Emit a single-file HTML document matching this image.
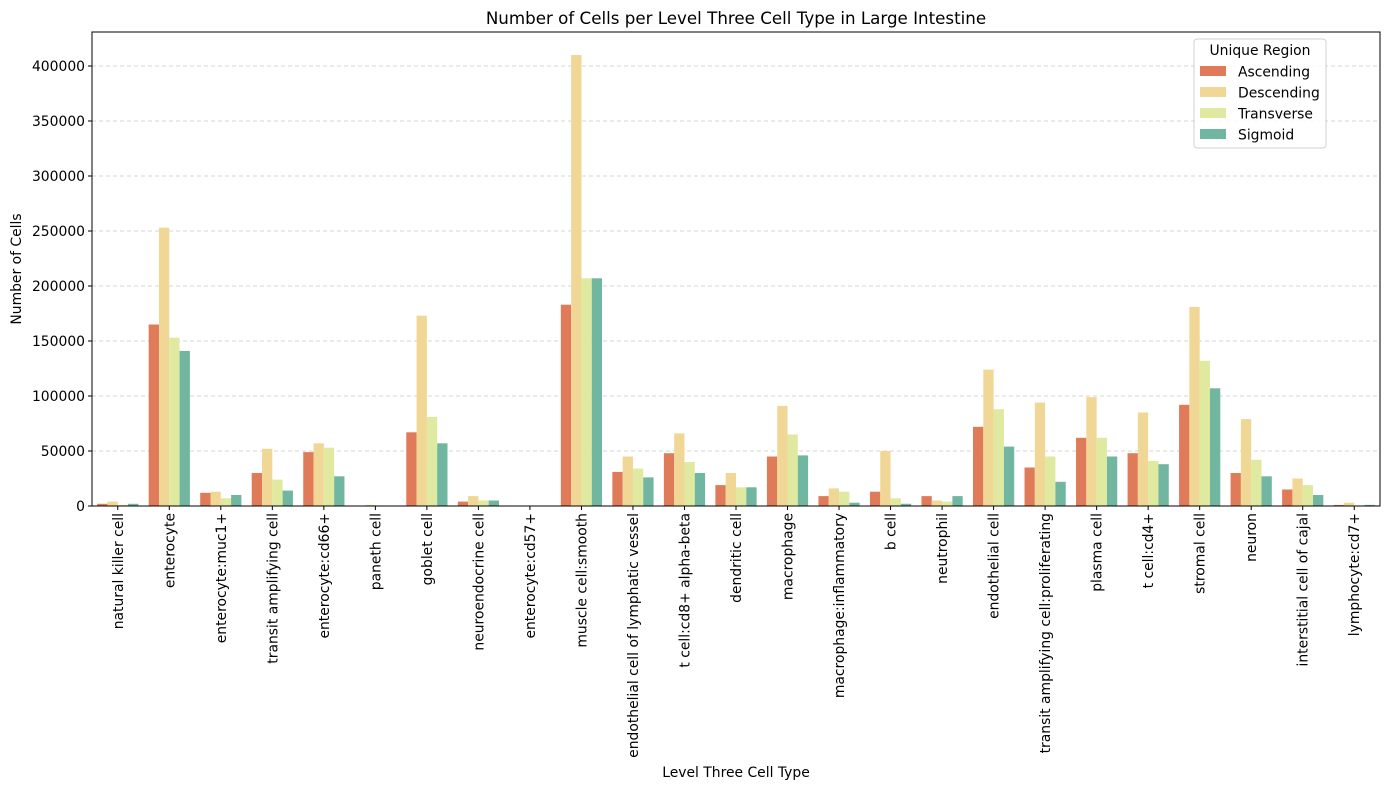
<!DOCTYPE html>
<html><head><meta charset="utf-8"><style>
body{margin:0;background:#fff;}
svg text{font-family:"DejaVu Sans","Liberation Sans",sans-serif;fill:#000;}
</style></head><body>
<svg id="c" width="1389" height="790" xmlns="http://www.w3.org/2000/svg"></svg>
<script>
const cats=["natural killer cell","enterocyte","enterocyte:muc1+","transit amplifying cell","enterocyte:cd66+","paneth cell","goblet cell","neuroendocrine cell","enterocyte:cd57+","muscle cell:smooth","endothelial cell of lymphatic vessel","t cell:cd8+ alpha-beta","dendritic cell","macrophage","macrophage:inflammatory","b cell","neutrophil","endothelial cell","transit amplifying cell:proliferating","plasma cell","t cell:cd4+","stromal cell","neuron","interstitial cell of cajal","lymphocyte:cd7+"];
const v=[[2,4,1,2],[165,253,153,141],[12,13,7,10],[30,52,24,14],[49,57,53,27],[0,1,0.5,0],[67,173,81,57],[4,9,5,5],[0,0,0,0],[183,410,207,207],[31,45,34,26],[48,66,40,30],[19,30,17,17],[45,91,65,46],[9,16,13,3],[13,50,7,2],[9,5,4,9],[72,124,88,54],[35,94,45,22],[62,99,62,45],[48,85,41,38],[92,181,132,107],[30,79,42,27],[15,25,19,10],[1,3,0,1]];
const cols=["#e07b5a","#f1d795","#dfeaa0","#70b6a0"],names=["Ascending","Descending","Transverse","Sigmoid"];
const L=92,R=1380,T=32,B=506,w=(R-L)/25,k=440/400,fs=13.9;
let s='';
for(let i=0;i<=8;i++){const y=B-i*50*k;s+=`<line x1="${L}" x2="${R}" y1="${y}" y2="${y}" stroke="#c8c8c8" stroke-dasharray="4,3" stroke-width="0.8"/>`;
s+=`<line x1="${L-4}" x2="${L}" y1="${y}" y2="${y}" stroke="#000"/><text x="${L-7}" y="${y+5}" font-size="${fs}" text-anchor="end">${i*50000}</text>`;}
cats.forEach((c,i)=>{const cx=L+(i+0.5)*w,bw=w*0.8/4;
v[i].forEach((val,j)=>{const h=val*k;s+=`<rect x="${cx-2*bw+j*bw}" y="${B-h}" width="${bw}" height="${h}" fill="${cols[j]}"/>`;});
s+=`<line x1="${cx}" x2="${cx}" y1="${B}" y2="${B+4}" stroke="#000"/><text transform="translate(${cx+5},${B+7}) rotate(-90)" font-size="${fs}" text-anchor="end">${c}</text>`;});
s+=`<rect x="${L}" y="${T}" width="${R-L}" height="${B-T}" fill="none" stroke="#000" stroke-width="1"/>`;
s+=`<text x="736" y="24" font-size="16.7" text-anchor="middle">Number of Cells per Level Three Cell Type in Large Intestine</text>`;
s+=`<text x="736" y="777" font-size="${fs}" text-anchor="middle">Level Three Cell Type</text>`;
s+=`<text transform="translate(21,269) rotate(-90)" font-size="${fs}" text-anchor="middle">Number of Cells</text>`;
s+=`<rect x="1194" y="39" width="132" height="109" rx="3" fill="#fff" fill-opacity="0.85" stroke="#d0d0d0"/><text x="1260" y="55" font-size="${fs}" text-anchor="middle">Unique Region</text>`;
names.forEach((n,j)=>{const y=66+j*21;s+=`<rect x="1200" y="${y}" width="26" height="10" fill="${cols[j]}"/><text x="1238" y="${y+10.5}" font-size="${fs}">${n}</text>`;});
document.getElementById('c').innerHTML=s;
</script>
</body></html>
